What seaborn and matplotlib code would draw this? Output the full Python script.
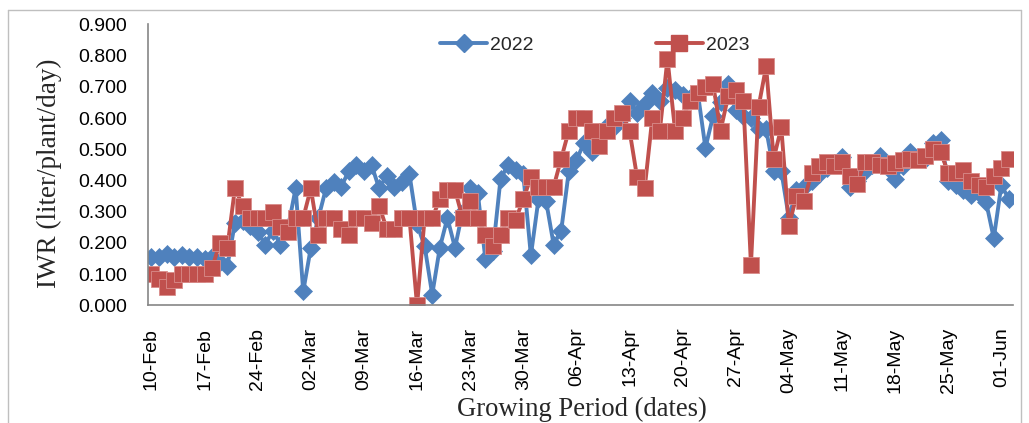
import numpy as np
import pandas as pd
import seaborn as sns
import matplotlib.pyplot as plt
from matplotlib.ticker import FixedLocator, FormatStrFormatter
from matplotlib.lines import Line2D

# daily IWR, 10-Feb .. 03-Jun (114 days)
iwr_2022 = [
    0.155, 0.155, 0.165, 0.155, 0.160, 0.155, 0.155, 0.150, 0.155, 0.140,
    0.125, 0.265, 0.270, 0.255, 0.235, 0.195, 0.240, 0.195, 0.250, 0.375,
    0.045, 0.185, 0.280, 0.375, 0.395, 0.380, 0.430, 0.450, 0.430, 0.450,
    0.375, 0.415, 0.380, 0.395, 0.420, 0.260, 0.190, 0.035, 0.185, 0.280,
    0.185, 0.300, 0.375, 0.360, 0.150, 0.175, 0.405, 0.450, 0.435, 0.420,
    0.160, 0.340, 0.335, 0.195, 0.240, 0.430, 0.465, 0.520, 0.490, 0.550,
    0.575, 0.570, 0.600, 0.655, 0.615, 0.645, 0.680, 0.655, 0.695, 0.690,
    0.675, 0.665, 0.680, 0.505, 0.605, 0.650, 0.710, 0.625, 0.605, 0.600,
    0.565, 0.565, 0.430, 0.430, 0.280, 0.370, 0.380, 0.400, 0.420, 0.440,
    0.455, 0.475, 0.380, 0.400, 0.430, 0.450, 0.480, 0.440, 0.405, 0.445,
    0.490, 0.475, 0.470, 0.520, 0.530, 0.400, 0.385, 0.370, 0.355, 0.360,
    0.330, 0.215, 0.385, 0.340,
]
iwr_2023 = [
    0.100, 0.085, 0.060, 0.080, 0.100, 0.100, 0.100, 0.100, 0.120, 0.200,
    0.185, 0.375, 0.320, 0.280, 0.280, 0.280, 0.300, 0.250, 0.235, 0.280,
    0.280, 0.375, 0.225, 0.280, 0.280, 0.245, 0.225, 0.280, 0.280, 0.265,
    0.320, 0.245, 0.245, 0.280, 0.280, 0.000, 0.280, 0.280, 0.340, 0.370,
    0.370, 0.280, 0.335, 0.280, 0.225, 0.190, 0.225, 0.280, 0.275, 0.340,
    0.410, 0.380, 0.380, 0.380, 0.470, 0.560, 0.600, 0.600, 0.560, 0.510,
    0.560, 0.600, 0.615, 0.560, 0.410, 0.375, 0.600, 0.560, 0.790, 0.560,
    0.600, 0.655, 0.680, 0.700, 0.710, 0.560, 0.670, 0.690, 0.655, 0.130,
    0.635, 0.765, 0.470, 0.570, 0.255, 0.350, 0.335, 0.425, 0.445, 0.460,
    0.445, 0.460, 0.415, 0.390, 0.460, 0.460, 0.450, 0.445, 0.455, 0.465,
    0.470, 0.465, 0.480, 0.500, 0.490, 0.425, 0.425, 0.435, 0.400, 0.385,
    0.380, 0.415, 0.440, 0.470,
]
week_labels = ["10-Feb", "17-Feb", "24-Feb", "02-Mar", "09-Mar", "16-Mar",
               "23-Mar", "30-Mar", "06-Apr", "13-Apr", "20-Apr", "27-Apr",
               "04-May", "11-May", "18-May", "25-May", "01-Jun"]

day = np.arange(len(iwr_2022))
df = pd.DataFrame({"day": day, "2022": iwr_2022, "2023": iwr_2023})

BLUE = "#4F81BD"
RED = "#C0504D"
AXIS = "#868686"

sns.set_style("white")
plt.rcParams["font.family"] = ["Liberation Sans", "DejaVu Sans"]

fig = plt.figure(figsize=(10.29, 4.23), dpi=100)
ax = fig.add_axes([0.1435, 0.2778, 0.8407, 0.6648])

sns.lineplot(data=df, x="day", y="2022", ax=ax, color=BLUE, linewidth=2.8,
             marker="D", markersize=9, markeredgecolor=BLUE, markeredgewidth=0.5)
sns.lineplot(data=df, x="day", y="2023", ax=ax, color=RED, linewidth=2.8,
             marker="s", markersize=11, markeredgecolor="#D98C8A", markeredgewidth=0.6)

ax.set_xlim(-0.5, len(day) - 0.5)
ax.set_ylim(0, 0.9)
ax.yaxis.set_major_locator(FixedLocator(np.arange(0, 0.91, 0.1)))
ax.yaxis.set_major_formatter(FormatStrFormatter("%.3f"))

week_pos = np.arange(len(week_labels)) * 7
ax.set_xticks(week_pos)
ax.set_xticklabels(week_labels, rotation=90)
ax.set_xticks(week_pos - 0.5, minor=True)

ax.tick_params(axis="x", which="major", length=0, pad=16, labelsize=14, colors="black")
ax.tick_params(axis="x", which="minor", length=5, width=1.2, color=AXIS, direction="out")
ax.tick_params(axis="y", length=5, width=1.2, color=AXIS, direction="out", pad=10,
               labelsize=14, labelcolor="black")

for s in ["top", "right"]:
    ax.spines[s].set_visible(False)
for s in ["left", "bottom"]:
    ax.spines[s].set_color(AXIS)
    ax.spines[s].set_linewidth(1.2)

serif = ["Liberation Serif", "DejaVu Serif"]
ax.set_ylabel("IWR (liter/plant/day)", family=serif, fontsize=19.5)
ax.yaxis.set_label_coords(-0.099, 0.47)
ax.set_xlabel("Growing Period (dates)", family=serif, fontsize=19.2)
ax.xaxis.set_label_coords(0.502, -0.325)

handles = [
    Line2D([], [], color=BLUE, linewidth=2.8, marker="D", markersize=9),
    Line2D([], [], color=RED, linewidth=2.8, marker="s", markersize=11),
]
ax.legend(handles, ["2022", "2023"], loc="center", bbox_to_anchor=(0.578, 0.894),
          bbox_transform=fig.transFigure, ncol=2, frameon=False, fontsize=14,
          handlelength=2.4, handletextpad=0.15, columnspacing=6.3)

# chart area frame
frame_kw = dict(color="#BFBFBF", linewidth=1, transform=fig.transFigure)
fig.add_artist(Line2D([8 / 1029, 8 / 1029], [0, 1 - 10 / 423], **frame_kw))
fig.add_artist(Line2D([8 / 1029, 1021 / 1029], [1 - 10 / 423, 1 - 10 / 423], **frame_kw))
fig.add_artist(Line2D([1021 / 1029, 1021 / 1029], [0, 1 - 10 / 423], **frame_kw))

fig.savefig("out.png", dpi=100)
